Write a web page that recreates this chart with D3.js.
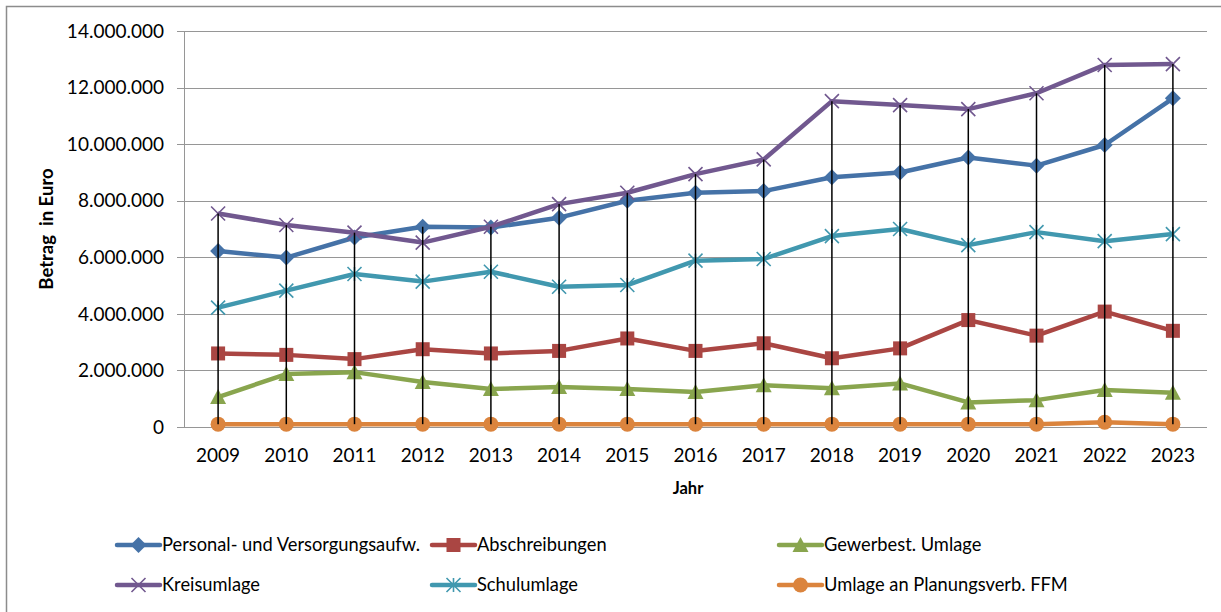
<!DOCTYPE html>
<html><head><meta charset="utf-8">
<script src="https://cdn.jsdelivr.net/npm/d3@7"></script>
<style>
html,body{margin:0;padding:0;background:#fff;}
svg{display:block;font-family:Lato,"Open Sans",sans-serif;}
</style></head>
<body>
<svg id="chart" width="1221" height="612"></svg>
<script>
const years = ["2009","2010","2011","2012","2013","2014","2015","2016","2017","2018","2019","2020","2021","2022","2023"];
const seriesNames = ["Personal- und Versorgungsaufw.","Abschreibungen","Gewerbest. Umlage","Kreisumlage","Schulumlage","Umlage an Planungsverb. FFM"];
const personal = [6220000,5990000,6700000,7080000,7050000,7400000,8000000,8280000,8340000,8830000,9000000,9530000,9240000,9970000,11620000];
const abschreibungen = [2600000,2550000,2400000,2750000,2600000,2690000,3130000,2690000,2960000,2430000,2780000,3780000,3230000,4080000,3400000];
const gewerbest = [1060000,1870000,1940000,1590000,1340000,1410000,1340000,1240000,1480000,1370000,1540000,870000,950000,1310000,1210000];
const kreisumlage = [7550000,7140000,6870000,6520000,7080000,7880000,8280000,8940000,9460000,11520000,11380000,11240000,11800000,12800000,12830000];
const schulumlage = [4220000,4820000,5410000,5140000,5490000,4960000,5020000,5880000,5940000,6750000,7000000,6430000,6890000,6570000,6820000];
const planungsverb = [100000,100000,100000,100000,100000,100000,100000,100000,100000,100000,100000,100000,100000,170000,100000];
const yTicks = [0,2000000,4000000,6000000,8000000,10000000,12000000,14000000];

const colors = ["#4572A7","#AA4643","#89A54E","#71588F","#4198AF","#DB843D"];
const markers = ["diamond","square","triangle","x","star","circle"];
const data = [personal,abschreibungen,gewerbest,kreisumlage,schulumlage,planungsverb];

const svg = d3.select("#chart");
const de = d3.formatLocale({decimal:",",thousands:".",grouping:[3],currency:["","€"]});
const fmt = de.format(",");

const pLeft = 184, pRight = 1207, pTop = 31, pBottom = 427;
const x = d3.scalePoint().domain(years).range([pLeft,pRight]).padding(0.5);
const y = d3.scaleLinear().domain([0,14000000]).range([pBottom,pTop]);

// outer border
svg.append("rect").attr("x",6.5).attr("y",6.5).attr("width",1240).attr("height",640)
  .attr("fill","none").attr("stroke","#8c8c8c").attr("stroke-width",1.5);

// gridlines
svg.append("g").selectAll("line").data(yTicks).join("line")
  .attr("x1",pLeft-7).attr("x2",pRight).attr("y1",d=>Math.round(y(d))+0.5).attr("y2",d=>Math.round(y(d))+0.5)
  .attr("stroke","#969696").attr("stroke-width",1);
// y axis line
svg.append("line").attr("x1",pLeft+0.5).attr("x2",pLeft+0.5).attr("y1",pTop).attr("y2",pBottom+0.5)
  .attr("stroke","#969696").attr("stroke-width",1);

// y tick labels
svg.append("g").selectAll("text").data(yTicks).join("text")
  .attr("x",164).attr("y",d=>y(d)).attr("dy","0.35em").attr("text-anchor","end")
  .attr("font-size",19).attr("fill","#000").text(d=>fmt(d));

// x tick labels
svg.append("g").selectAll("text").data(years).join("text")
  .attr("x",d=>x(d)).attr("y",455).attr("dy","0.35em").attr("text-anchor","middle")
  .attr("font-size",19).attr("fill","#000").text(d=>d);

// axis titles
svg.append("text").attr("transform","translate(53,229) rotate(-90)").attr("text-anchor","middle")
  .attr("font-size",18.5).attr("font-weight","bold").style("white-space","pre").text("Betrag  in Euro");
svg.append("text").attr("x",688).attr("y",488).attr("dy","0.35em").attr("text-anchor","middle")
  .attr("font-size",16.5).attr("font-weight","bold").text("Jahr");

function drawMarker(g, type, color, cx, cy){
  if(type==="diamond"){
    g.append("path").attr("d",`M${cx},${cy-8}L${cx+8},${cy}L${cx},${cy+8}L${cx-8},${cy}Z`).attr("fill",color);
  } else if(type==="square"){
    g.append("rect").attr("x",cx-7).attr("y",cy-7).attr("width",14).attr("height",14).attr("fill",color);
  } else if(type==="triangle"){
    g.append("path").attr("d",`M${cx},${cy-8}L${cx+8},${cy+7}L${cx-8},${cy+7}Z`).attr("fill",color);
  } else if(type==="circle"){
    g.append("circle").attr("cx",cx).attr("cy",cy).attr("r",7.5).attr("fill",color);
  } else if(type==="x"){
    g.append("path").attr("d",`M${cx-7},${cy-7}L${cx+7},${cy+7}M${cx-7},${cy+7}L${cx+7},${cy-7}`)
      .attr("stroke",color).attr("stroke-width",1.6).attr("fill","none");
  } else if(type==="star"){
    g.append("path").attr("d",`M${cx-7},${cy-7}L${cx+7},${cy+7}M${cx-7},${cy+7}L${cx+7},${cy-7}M${cx},${cy-7}L${cx},${cy+7}`)
      .attr("stroke",color).attr("stroke-width",1.6).attr("fill","none");
  }
}

// series
const line = d3.line().x((d,i)=>x(years[i])).y(d=>y(d));
data.forEach((vals,si)=>{
  const g = svg.append("g");
  g.append("path").datum(vals).attr("d",line).attr("fill","none")
    .attr("stroke",colors[si]).attr("stroke-width",4.5).attr("stroke-linejoin","round");
  vals.forEach((v,i)=>drawMarker(g,markers[si],colors[si],x(years[i]),y(v)));
});

// high-low lines
svg.append("g").selectAll("line").data(years).join("line")
  .attr("x1",d=>x(d)).attr("x2",d=>x(d))
  .attr("y1",(d,i)=>y(d3.max(data,s=>s[i])))
  .attr("y2",(d,i)=>y(d3.min(data,s=>s[i])))
  .attr("stroke","#000").attr("stroke-width",1.5);

// legend
const legPos = [[117,545],[432,545],[779,545],[117,585],[432,585],[779,585]];
seriesNames.forEach((name,si)=>{
  const [lx,ly] = legPos[si];
  const g = svg.append("g");
  g.append("line").attr("x1",lx).attr("x2",lx+43).attr("y1",ly).attr("y2",ly)
    .attr("stroke",colors[si]).attr("stroke-width",4.5).attr("stroke-linecap","round");
  drawMarker(g,markers[si],colors[si],lx+21.5,ly);
  g.append("text").attr("x",lx+45).attr("y",ly).attr("dy","0.35em").attr("font-size",18.3).attr("fill","#000").text(name);
});
</script>
</body></html>
